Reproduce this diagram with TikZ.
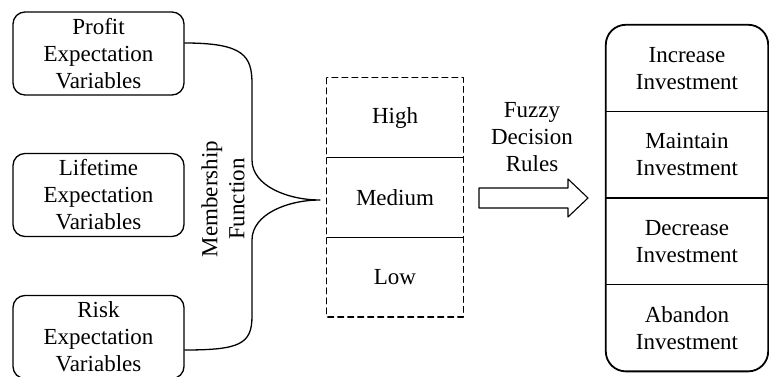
\documentclass[tikz,border=0pt]{standalone}
\usepackage{fontspec}
\setmainfont{Liberation Serif}
\usetikzlibrary{positioning}
\begin{document}
\begin{tikzpicture}[x=1pt, y=-1pt, line join=round, line cap=round,
		font=\fontsize{23}{27}\selectfont,
		varbox/.style={draw, line width=1.3pt, rounded corners=12pt, inner sep=2pt,
			minimum width=171pt, minimum height=83pt, align=center},
		level/.style={minimum width=136pt, minimum height=79.3pt},
		choice/.style={minimum width=162pt, minimum height=86.25pt, align=center}]
	\useasboundingbox (0,0) rectangle (769,377);
	% expectation variables
	\node[varbox] (profit) at (98.5,53.5) {Profit\\Expectation\\Variables};
	\node[varbox] (lifetime) at (98.5,195) {Lifetime\\Expectation\\Variables};
	\node[varbox] (risk) at (98.5,337) {Risk\\Expectation\\Variables};
	% brace gathering the three inputs
	\coordinate (tip) at (320,200);
	\draw[line width=1.3pt] (profit.east |- 0,43) .. controls (244,43) and (252,56) .. (252,84)
		-- (252,160) .. controls (252,186) and (288,200) .. (tip)
		.. controls (288,200) and (252,214) .. (252,240)
		-- (252,316) .. controls (252,344) and (240,350) .. (risk.east |- 0,350);
	\node[rotate=90, align=center] (mf) at (223,199) {Membership\\Function};
	% fuzzy levels
	\node[level] (high) at (395,117.7) {High};
	\node[level, below=0pt of high] (medium) {Medium};
	\node[level, below=0pt of medium] (low) {Low};
	\draw[line width=1.1pt, dash pattern=on 6pt off 4pt] (high.north west) rectangle (low.south east);
	\draw[line width=1.1pt] (high.south west) -- (high.south east)
		(medium.south west) -- (medium.south east);
	% rules arrow
	\node[align=center] (rules) at (532,137) {Fuzzy\\Decision\\Rules};
	\draw[line width=1.1pt] (479,188) -- (568,188) -- (568,179) -- (588,198)
		-- (568,217) -- (568,208) -- (479,208) -- cycle;
	% investment decisions
	\node[choice] (increase) at (687,68.1) {Increase\\Investment};
	\node[choice, below=0pt of increase] (maintain) {Maintain\\Investment};
	\node[choice, below=0pt of maintain] (decrease) {Decrease\\Investment};
	\node[choice, below=0pt of decrease] (abandon) {Abandon\\Investment};
	\draw[line width=1.8pt, rounded corners=20pt] (increase.north west) rectangle (abandon.south east);
	\foreach \n in {increase,maintain,decrease}
		\draw[line width=1.3pt] (\n.south west) -- (\n.south east);
\end{tikzpicture}
\end{document}
